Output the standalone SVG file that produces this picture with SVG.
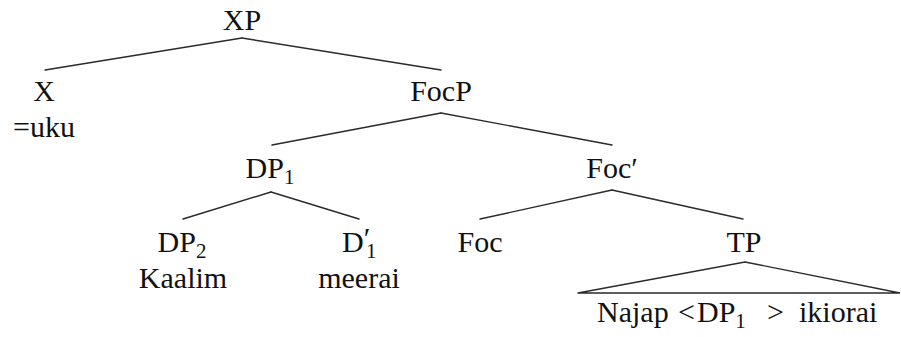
<svg xmlns="http://www.w3.org/2000/svg" width="901" height="337" viewBox="0 0 901 337">
<style>
text{font-family:"Liberation Serif","DejaVu Serif",serif;font-size:30px;fill:#111}
.m{text-anchor:middle}
.sub{font-size:21px}
.edges line,.edges polyline{stroke:#2a2a2a;stroke-width:1.4;fill:none;stroke-linecap:round}
</style>
<rect width="901" height="337" fill="#fff"/>
<g class="edges" id="connectors">
<line x1="242" y1="38" x2="45" y2="70"/>
<line x1="242" y1="38" x2="441" y2="70"/>
<line x1="441" y1="113" x2="272" y2="145"/>
<line x1="441" y1="113" x2="612" y2="145"/>
<line x1="271" y1="192" x2="183" y2="219"/>
<line x1="271" y1="192" x2="359" y2="219"/>
<line x1="612" y1="190" x2="480" y2="219"/>
<line x1="612" y1="190" x2="743" y2="219"/>
<polyline points="578,293 745,262 900,293 578,293"/>
</g>
<g id="XP"><text class="m" x="242" y="30">XP</text></g>
<g id="X"><text class="m" x="44" y="101">X</text><text class="m" x="44" y="137">=uku</text></g>
<g id="FocP"><text class="m" x="441" y="101">FocP</text></g>
<g id="DP1"><text class="m" x="270" y="178">DP<tspan class="sub" dy="6">1</tspan></text></g>
<g id="FocBar"><text class="m" x="612" y="178">Foc′</text></g>
<g id="DP2"><text class="m" x="182" y="252">DP<tspan class="sub" dy="6">2</tspan></text><text class="m" x="183" y="288">Kaalim</text></g>
<g id="D1bar"><text x="342" y="252">D<tspan dy="-4">′</tspan><tspan class="sub" x="366" dy="10">1</tspan></text><text class="m" x="359" y="288">meerai</text></g>
<g id="Foc"><text class="m" x="480" y="252">Foc</text></g>
<g id="TP"><text class="m" x="744" y="252">TP</text>
<text y="322"><tspan x="597">Najap</tspan><tspan x="678">&lt;</tspan><tspan x="697">DP</tspan><tspan class="sub" dy="6">1</tspan><tspan x="767" dy="-6">&gt;</tspan><tspan x="799">ikiorai</tspan></text></g>
</svg>
